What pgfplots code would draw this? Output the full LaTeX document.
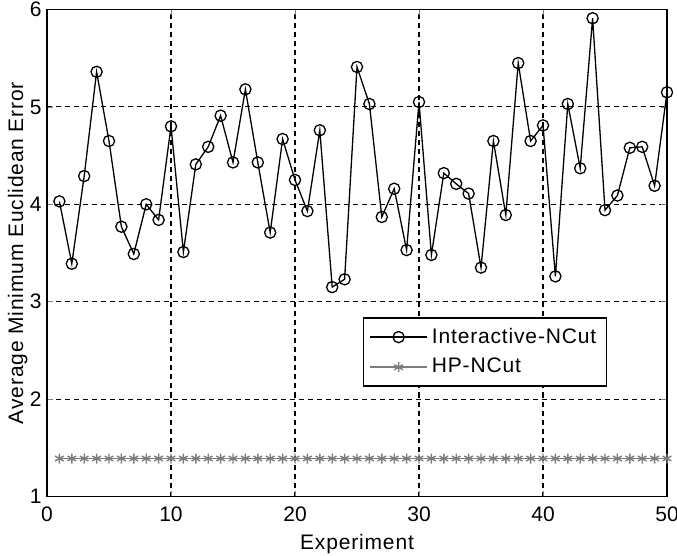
\documentclass[border=0pt]{standalone}
\usepackage{pgfplots}
\pgfplotsset{compat=1.18}
\usepackage{fontspec}
\setmainfont{Liberation Sans}
\newfontfamily\lab[LetterSpace=4]{Liberation Sans}
\begin{document}
\fontsize{10.5pt}{12.5pt}\selectfont
\begin{tikzpicture}
\begin{axis}[
    scale only axis,
    width=310pt, height=243.5pt,
    xmin=0, xmax=50, ymin=1, ymax=6,
    xtick={0,10,...,50}, ytick={1,2,...,6},
    tick align=inside,
    major tick length=3pt,
    axis line style={line width=0.65pt},
    grid=major,
    grid style={dash pattern=on 2.5pt off 2pt, black, line width=0.55pt},
    xlabel={Experiment},
    ylabel={Average Minimum Euclidean Error},
    xlabel style={yshift=1pt},
    ylabel style={yshift=-6pt},
    xticklabel style={yshift=-1.5pt},
    yticklabel style={xshift=1pt},
    /pgf/number format/assume math mode=true,
    tick label style={font=\fontsize{10.5pt}{12.5pt}\selectfont},
    label style={font=\lab\fontsize{10.5pt}{12.5pt}\selectfont},
    legend style={at={(0.903,0.368)}, anchor=north east, draw=black,
        line width=0.65pt, font=\lab\fontsize{10.5pt}{12.5pt}\selectfont,
        row sep=2pt, inner sep=3pt},
    legend cell align=left,
    legend image code/.code={
        \draw[mark repeat=2,mark phase=2] plot coordinates {(0cm,0cm) (0.5cm,0cm) (1cm,0cm)};
    },
]
\addplot[black, line width=0.65pt, mark=o, mark size=2.8pt, mark options={solid, line width=0.65pt}] coordinates {
(1,4.03) (2,3.39) (3,4.29) (4,5.36) (5,4.65) (6,3.77) (7,3.49) (8,4.00) (9,3.84) (10,4.80)
(11,3.51) (12,4.41) (13,4.59) (14,4.91) (15,4.43) (16,5.18) (17,4.43) (18,3.71) (19,4.67) (20,4.25)
(21,3.93) (22,4.76) (23,3.15) (24,3.23) (25,5.41) (26,5.03) (27,3.87) (28,4.16) (29,3.53) (30,5.05)
(31,3.48) (32,4.32) (33,4.21) (34,4.11) (35,3.35) (36,4.65) (37,3.89) (38,5.45) (39,4.65) (40,4.81)
(41,3.26) (42,5.03) (43,4.37) (44,5.91) (45,3.94) (46,4.09) (47,4.58) (48,4.59) (49,4.19) (50,5.15)
};
\addlegendentry{Interactive-NCut}
\addplot[color={rgb,255:red,125;green,125;blue,125}, line width=0.8pt, mark=asterisk, mark size=2.5pt, mark options={solid, line width=0.7pt}] coordinates {
(1,1.39) (2,1.39) (3,1.39) (4,1.39) (5,1.39) (6,1.39) (7,1.39) (8,1.39) (9,1.39) (10,1.39)
(11,1.39) (12,1.39) (13,1.39) (14,1.39) (15,1.39) (16,1.39) (17,1.39) (18,1.39) (19,1.39) (20,1.39)
(21,1.39) (22,1.39) (23,1.39) (24,1.39) (25,1.39) (26,1.39) (27,1.39) (28,1.39) (29,1.39) (30,1.39)
(31,1.39) (32,1.39) (33,1.39) (34,1.39) (35,1.39) (36,1.39) (37,1.39) (38,1.39) (39,1.39) (40,1.39)
(41,1.39) (42,1.39) (43,1.39) (44,1.39) (45,1.39) (46,1.39) (47,1.39) (48,1.39) (49,1.39) (50,1.39)
};
\addlegendentry{HP-NCut}
\end{axis}
\pgfresetboundingbox
\useasboundingbox ([shift={(-23.5pt,-29.5pt)}]current axis.south west) rectangle ([shift={(5pt,4.75pt)}]current axis.north east);
\end{tikzpicture}
\end{document}
